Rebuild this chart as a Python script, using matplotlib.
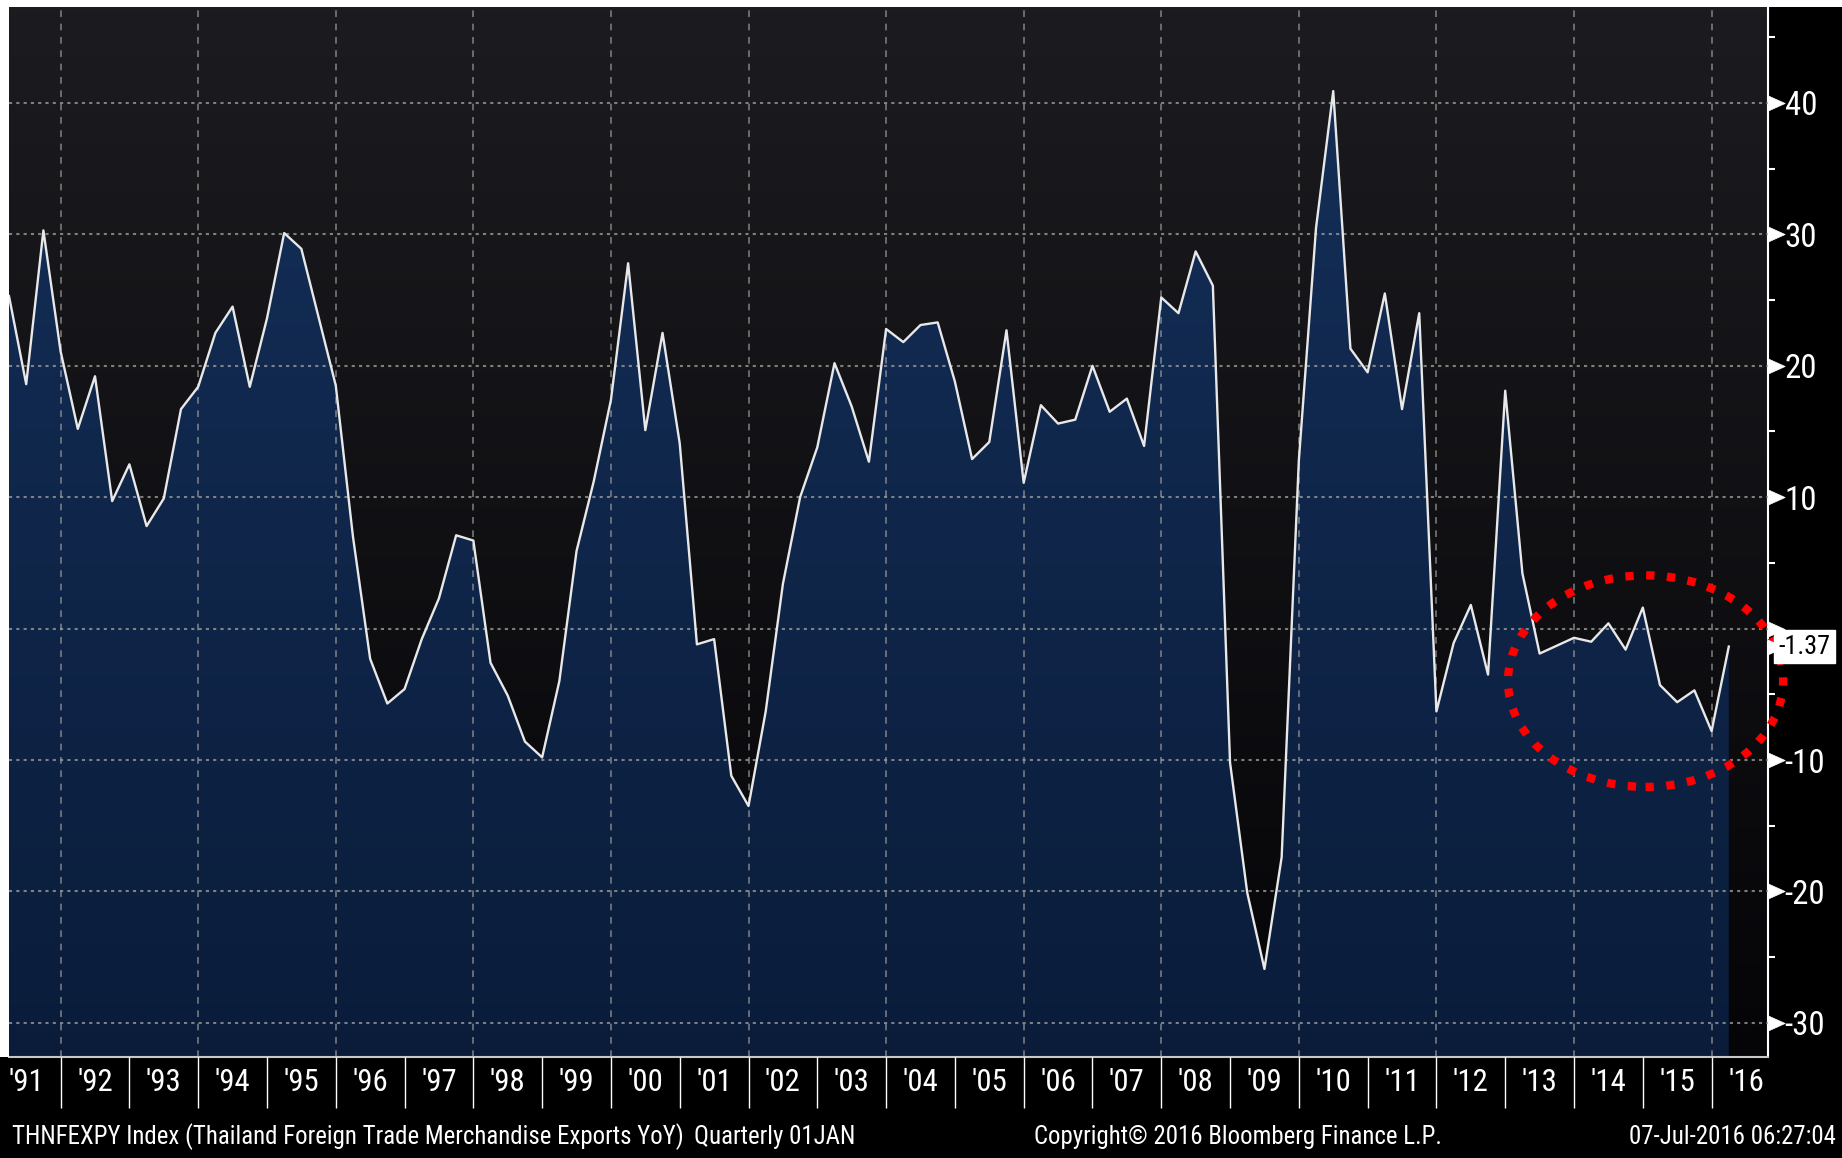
import os
import numpy as np
import pandas as pd
import matplotlib
matplotlib.use("Agg")
import matplotlib.pyplot as plt
from matplotlib import font_manager as fm
from matplotlib.colors import LinearSegmentedColormap
from matplotlib.patches import Ellipse, Rectangle
from matplotlib.path import Path

# Thailand merchandise exports, YoY %, quarterly 1991Q1 - 2016Q1
quarters = pd.period_range("1991Q1", "2016Q1", freq="Q")
yoy = [
    25.3, 18.6, 30.3,
    21.1, 15.2, 19.2, 9.7,
    12.5, 7.8, 9.9, 16.7,
    18.4, 22.5, 24.5, 18.4,
    23.6, 30.1, 28.9, 23.7,
    18.5, 7.0, -2.3, -5.7,
    -4.6, -0.8, 2.3, 7.1,
    6.7, -2.6, -5.1, -8.6,
    -9.8, -4.0, 5.9, 11.2,
    17.4, 27.8, 15.1, 22.5,
    14.1, -1.2, -0.8, -11.2,
    -13.5, -6.3, 3.4, 10.0,
    13.8, 20.2, 16.9, 12.7,
    22.8, 21.8, 23.1, 23.3,
    18.8, 12.9, 14.2, 22.7,
    11.1, 17.0, 15.6, 15.9,
    20.0, 16.5, 17.5, 13.9,
    25.2, 24.0, 28.7, 26.1,
    -10.2, -20.1, -25.9, -17.4,
    12.8, 30.5, 40.9, 21.3,
    19.5, 25.5, 16.7, 24.0,
    -6.3, -1.1, 1.8, -3.5,
    18.1, 4.2, -1.9, -1.3,
    -0.7, -1.0, 0.4, -1.6,
    1.6, -4.3, -5.6, -4.7,
    -7.8, -1.37,
]
label_years = list(range(1991, 2017))
year_labels = ["'%02d" % (y % 100) for y in label_years]
y_major = list(range(-30, 41, 10))
y_minor = list(range(-25, 46, 10))
title_text = "THNFEXPY Index (Thailand Foreign Trade Merchandise Exports YoY)"
freq_text = "Quarterly 01JAN"
copy_text = "Copyright\u00a9 2016 Bloomberg Finance L.P."
stamp_text = "07-Jul-2016 06:27:04"


def pick_font():
    # Bloomberg uses a very narrow face; take the narrowest regular one we have
    wanted = ["liberationsansnarrow-regular", "robotocondensed-regular",
              "notosans-condensed.", "dejavusanscondensed.", "opensans-condensedregular",
              "opensans_condensed-regular"]
    files = {os.path.basename(f.fname).lower(): f.fname for f in fm.fontManager.ttflist}
    for w in wanted:
        for base, path in files.items():
            if base.startswith(w):
                return fm.FontProperties(fname=path)
    return fm.FontProperties(family="Liberation Sans")


fp = pick_font()

x = np.array([q.year + q.quarter / 4.0 for q in quarters])
vals = np.array(yoy)

W, H = 1842, 1158
fig = plt.figure(figsize=(W / 100, H / 100), dpi=100, facecolor="black")
renderer = fig.canvas.get_renderer()


def fit_size(text, target_px, max_pt):
    t = fig.text(0, 0, text, fontproperties=fp, fontsize=10)
    w = t.get_window_extent(renderer).width
    t.remove()
    return min(10.0 * target_px / w, max_pt)


tick_fs = fit_size("'91", 36, 28)
ylab_fs = fit_size("40", 32, 28)
tag_fs = fit_size("-1.37", 52, 26)
foot_fs = fit_size(title_text, 668, 22)

ax = fig.add_axes([9 / W, 1 - 1057 / H, (1768 - 9) / W, (1057 - 7) / H])
fig.add_artist(Rectangle((0, 1 - 7 / H), 1, 7 / H, transform=fig.transFigure,
                         fc="white", ec="none"))
fig.add_artist(Rectangle((0, 1 - 1057 / H), 9 / W, 1050 / H, transform=fig.transFigure,
                         fc="white", ec="none"))

x0, x1 = 1991.25, 2016.82
y0, y1 = -32.6, 47.3
ax.set_xlim(x0, x1)
ax.set_ylim(y0, y1)

# background and area gradients
grad = np.linspace(1, 0, 256).reshape(-1, 1)
bg_cmap = LinearSegmentedColormap.from_list("bg", ["#050508", "#1c1c20"])
ax.imshow(grad, extent=[x0, x1, y0, y1], cmap=bg_cmap, aspect="auto",
          zorder=0, vmin=0, vmax=1, origin="upper")
fill_cmap = LinearSegmentedColormap.from_list("fill", ["#0a1c3a", "#15305a"])
poly = ax.fill_between(x, vals, y0, color="none", lw=0)
im = ax.imshow(grad, extent=[x0, x1, y0, y1], cmap=fill_cmap, aspect="auto",
               zorder=1, vmin=0, vmax=1, origin="upper")
im.set_clip_path(poly.get_paths()[0], ax.transData)

# grid
for yr in range(1992, 2017, 2):
    ax.axvline(yr, color="#9a9a9a", lw=1.2, ls=(0, (4, 4)), alpha=0.75, zorder=2)
ax.set_axisbelow(False)
ax.yaxis.grid(True, which="major", color="#9a9a9a", lw=1.5, ls=(0, (1.5, 2)), alpha=0.8)
ax.xaxis.grid(False)

ax.plot(x, vals, color="#e8e8e8", lw=1.7, zorder=4)

# spines
for s in ["top", "left"]:
    ax.spines[s].set_visible(False)
ax.spines["right"].set_color("white")
ax.spines["right"].set_linewidth(1.5)
ax.spines["bottom"].set_color("#c8c8c8")
ax.spines["bottom"].set_linewidth(1.5)

# y axis on the right with arrow markers
ax.yaxis.tick_right()
ax.set_yticks(y_major)
ax.set_yticks(y_minor, minor=True)
ax.tick_params(axis="y", which="major", length=10, width=0.5, colors="white", pad=2)
ax.tick_params(axis="y", which="minor", length=5, width=1.5, color="white")
# the zero label sits under the last-value tag, so it is left blank
ax.set_yticklabels([str(v) if v != 0 else "" for v in y_major],
                   fontproperties=fp, fontsize=ylab_fs)
tri = Path([(0, -0.45), (0, 0.45), (1, 0), (0, -0.45)],
           [Path.MOVETO, Path.LINETO, Path.LINETO, Path.CLOSEPOLY])
for t in ax.yaxis.get_major_ticks():
    t.tick2line.set_marker(tri)
    t.tick2line.set_markersize(24)
    t.tick2line.set_markerfacecolor("white")
    t.tick2line.set_markeredgecolor("white")

# x axis: labels centred in each year, separators at year boundaries
ax.set_xticks([y + 0.5 for y in label_years])
ax.set_xticks(range(1992, 2017), minor=True)
ax.tick_params(axis="x", which="major", length=0, pad=8, colors="white")
ax.tick_params(axis="x", which="minor", length=37, width=1, color="white", direction="out")
ax.set_xticklabels(year_labels, fontproperties=fp, fontsize=tick_fs)

# last value tag
last = vals[-1]
ax.plot([1], [last], marker=tri, ms=22, color="white", transform=ax.get_yaxis_transform(),
        clip_on=False, zorder=9)
ax.annotate("%.2f" % last, xy=(1, last), xycoords=ax.get_yaxis_transform(),
            xytext=(7.5, 0), textcoords="offset points", va="center", ha="left",
            color="black", fontproperties=fp, fontsize=tag_fs, annotation_clip=False,
            zorder=10, bbox=dict(boxstyle="square,pad=0.18", fc="white", ec="white"))

# highlight ellipse
ax.add_patch(Ellipse((2015.04, -4.0), width=4.0, height=16.1, fill=False,
                     ec="#ff0000", lw=6, ls=(0, (1, 1.5)), clip_on=False, zorder=8))

# footer
fy = 1 - 1137 / H
fig.text(12 / W, fy, title_text, color="white", fontproperties=fp, fontsize=foot_fs,
         va="center", ha="left")
fig.text(694 / W, fy, freq_text, color="white", fontproperties=fp, fontsize=foot_fs,
         va="center", ha="left")
fig.text(1034 / W, fy, copy_text, color="white", fontproperties=fp, fontsize=foot_fs,
         va="center", ha="left")
fig.text(1836 / W, fy, stamp_text, color="white", fontproperties=fp, fontsize=foot_fs,
         va="center", ha="right")

fig.savefig("out.png", dpi=100, facecolor="black")
